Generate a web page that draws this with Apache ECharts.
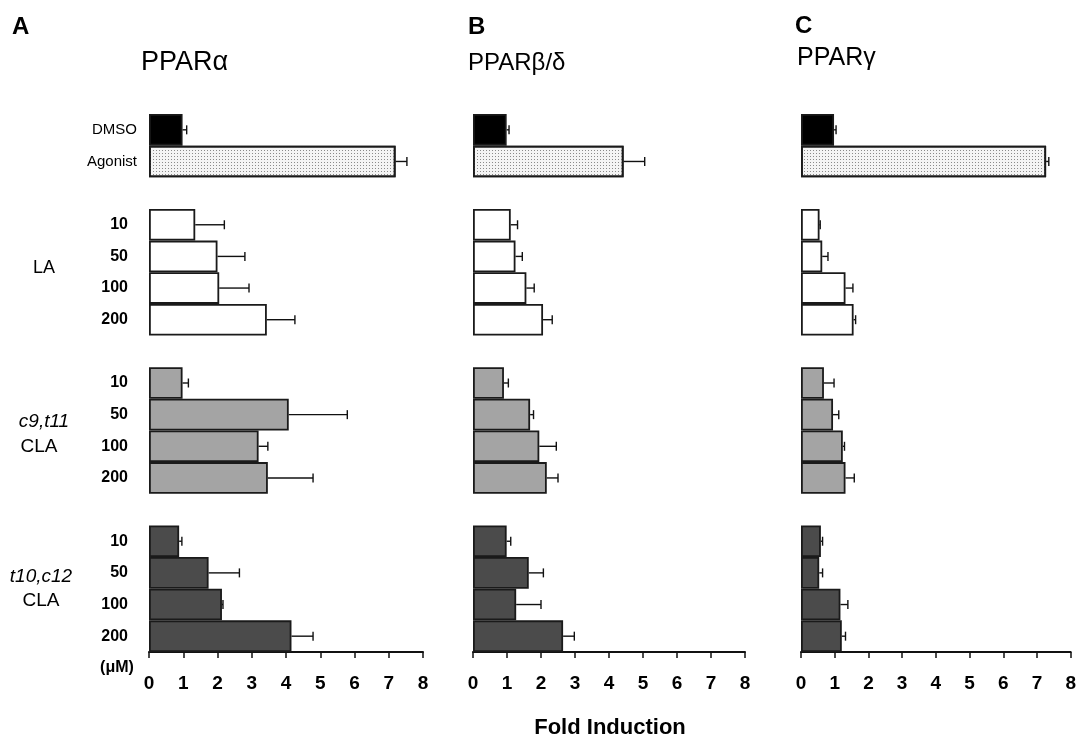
<!DOCTYPE html>
<html>
<head>
<meta charset="utf-8">
<script src="https://cdn.jsdelivr.net/npm/echarts@6/dist/echarts.min.js"></script>
<style>
html,body{margin:0;padding:0;background:#fff;}
#chart{width:1079px;height:741px;}
</style>
</head>
<body>
<div id="chart"></div>
<script>
// ---------- DATA ----------
const categories = ['DMSO','Agonist','','10','50','100','200','','10','50','100','200','','10','50','100','200'];
const xTicks = [0,1,2,3,4,5,6,7,8];

// PPARalpha
const alphaCtrl = [0.98, 7.2],   alphaCtrlErr = [0.12, 0.33];
const alphaLA   = [1.35, 2.0, 2.05, 3.44], alphaLAErr  = [0.85, 0.8, 0.87, 0.82];
const alphaC9   = [0.98, 4.08, 3.2, 3.47], alphaC9Err  = [0.17, 1.71, 0.27, 1.32];
const alphaT10  = [0.88, 1.74, 2.13, 4.16], alphaT10Err = [0.08, 0.9, 0.03, 0.63];

// PPARbeta/delta
const betaCtrl = [0.99, 4.43],   betaCtrlErr = [0.07, 0.62];
const betaLA   = [1.11, 1.25, 1.57, 2.06], betaLAErr  = [0.2, 0.2, 0.23, 0.27];
const betaC9   = [0.91, 1.68, 1.95, 2.17], betaC9Err  = [0.13, 0.1, 0.5, 0.33];
const betaT10  = [0.99, 1.64, 1.27, 2.65], betaT10Err = [0.12, 0.43, 0.73, 0.33];

// PPARgamma
const gammaCtrl = [0.98, 7.27],  gammaCtrlErr = [0.06, 0.08];
const gammaLA   = [0.55, 0.63, 1.32, 1.56], gammaLAErr  = [0.02, 0.17, 0.22, 0.06];
const gammaC9   = [0.68, 0.95, 1.24, 1.32], gammaC9Err  = [0.3, 0.17, 0.05, 0.26];
const gammaT10  = [0.59, 0.54, 1.17, 1.21], gammaT10Err = [0.05, 0.1, 0.22, 0.11];

// ---------- STYLE ----------
const FONT = '"Liberation Sans", Arial, Helvetica, sans-serif';
const BORDER = '#1a1a1a';
const colDMSO = '#000000';
const colLA = '#ffffff';
const colC9 = '#a4a4a4';
const colT10 = '#4b4b4b';
const agonistStyle = {
  color: '#f4f4f4',
  decal: { symbol: 'rect', symbolSize: 1, color: '#8a8a8a', dashArrayX: [1, 2], dashArrayY: [1, 2] }
};

function build(ctrl, la, c9, t10) {
  return [...ctrl, '-', ...la, '-', ...c9, '-', ...t10];
}
function slotStyle(i) {
  if (i === 0) return { color: colDMSO };
  if (i === 1) return agonistStyle;
  if (i >= 3 && i <= 6) return { color: colLA };
  if (i >= 8 && i <= 11) return { color: colC9 };
  return { color: colT10 };
}

const panels = [
  { vals: build(alphaCtrl, alphaLA, alphaC9, alphaT10), errs: build(alphaCtrlErr, alphaLAErr, alphaC9Err, alphaT10Err), left: 149, right: 656, labels: true },
  { vals: build(betaCtrl, betaLA, betaC9, betaT10), errs: build(betaCtrlErr, betaLAErr, betaC9Err, betaT10Err), left: 473, right: 334, labels: false },
  { vals: build(gammaCtrl, gammaLA, gammaC9, gammaT10), errs: build(gammaCtrlErr, gammaLAErr, gammaC9Err, gammaT10Err), left: 801, right: 5, labels: false }
];

const grid = [], xAxis = [], yAxis = [], series = [];
panels.forEach((p, k) => {
  grid.push({ left: p.left, right: p.right, top: 114, bottom: 89 });
  xAxis.push({
    type: 'value', gridIndex: k, min: 0, max: 8, interval: 1,
    axisLine: { show: true, lineStyle: { color: '#111', width: 2 } },
    axisTick: { show: true, length: 6, lineStyle: { color: '#111', width: 1.5 } },
    splitLine: { show: false },
    axisLabel: {
      margin: 22, color: '#000', fontSize: 19, fontWeight: 'bold', fontFamily: FONT,
      formatter: v => (xTicks.indexOf(v) >= 0 ? String(v) : '')
    }
  });
  yAxis.push({
    type: 'category', gridIndex: k, data: categories, inverse: true,
    axisLine: { show: false }, axisTick: { show: false }, splitLine: { show: false },
    axisLabel: {
      show: p.labels, margin: 12, interval: 0,
      formatter: (v, i) => {
        if (!v) return '';
        if (v === 'DMSO' || v === 'Agonist') return '{c|' + v + '}';
        return '{n|' + v + '}';
      },
      rich: {
        c: { fontSize: 15, fontFamily: FONT, color: '#000' },
        n: { fontSize: 16, fontWeight: 'bold', fontFamily: FONT, color: '#000', padding: [0, 9, 0, 0] }
      }
    }
  });
  series.push({
    type: 'bar', xAxisIndex: k, yAxisIndex: k,
    barCategoryGap: 0, barGap: 0,
    data: p.vals.map((v, i) => {
      if (v === '-') return '-';
      const st = slotStyle(i);
      return { value: v, itemStyle: Object.assign({ borderColor: BORDER, borderWidth: 1.8 }, st) };
    }),
    z: 2
  });
  const errData = [];
  p.vals.forEach((v, i) => {
    if (v === '-') return;
    errData.push([v, i, v + p.errs[i]]);
  });
  series.push({
    type: 'custom', xAxisIndex: k, yAxisIndex: k,
    encode: { x: [0, 2], y: 1 },
    data: errData, z: 3,
    renderItem: (params, api) => {
      const p0 = api.coord([api.value(0), api.value(1)]);
      const p1 = api.coord([api.value(2), api.value(1)]);
      const h = 9;
      const st = { stroke: '#111', lineWidth: 1.4 };
      return {
        type: 'group',
        children: [
          { type: 'line', shape: { x1: p0[0], y1: p0[1], x2: p1[0], y2: p1[1] }, style: st },
          { type: 'line', shape: { x1: p1[0], y1: p1[1] - h / 2, x2: p1[0], y2: p1[1] + h / 2 }, style: st }
        ]
      };
    }
  });
});

function txt(text, x, y, size, opts) {
  opts = opts || {};
  return {
    type: 'text', x: x, y: y, z: 10,
    style: {
      text: text, fill: '#000',
      font: (opts.italic ? 'italic ' : '') + (opts.bold ? 'bold ' : '') + size + 'px ' + FONT,
      textAlign: opts.align || 'center', textVerticalAlign: 'middle',
      align: opts.align || 'center', verticalAlign: 'middle'
    }
  };
}

const graphic = [
  txt('A', 12, 27, 24, { bold: true, align: 'left' }),
  txt('B', 468, 27, 24, { bold: true, align: 'left' }),
  txt('C', 795, 26, 24, { bold: true, align: 'left' }),
  txt('PPARα', 141, 63, 27, { align: 'left' }),
  txt('PPARβ/δ', 468, 63, 24, { align: 'left' }),
  txt('PPARγ', 797, 58, 25, { align: 'left' }),
  txt('LA', 44, 268, 18),
  txt('c9,t11', 44, 422, 19, { italic: true }),
  txt('CLA', 39, 447, 19),
  txt('t10,c12', 41, 577, 19, { italic: true }),
  txt('CLA', 41, 601, 19),
  txt('(μM)', 117, 668, 16, { bold: true }),
  txt('Fold Induction', 610, 728, 22, { bold: true })
];

const chart = echarts.init(document.getElementById('chart'), null, { renderer: 'canvas' });
chart.setOption({
  animation: false,
  backgroundColor: '#ffffff',
  grid: grid, xAxis: xAxis, yAxis: yAxis, series: series, graphic: graphic
});
</script>
</body>
</html>
